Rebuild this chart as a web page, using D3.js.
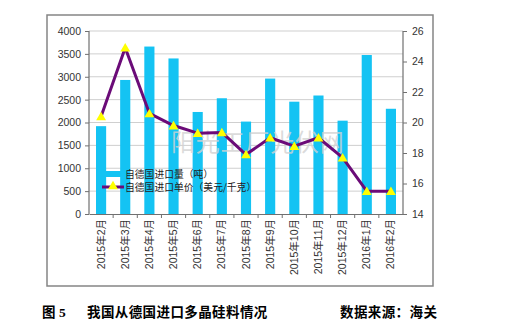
<!DOCTYPE html>
<html><head><meta charset="utf-8">
<script src="https://cdn.jsdelivr.net/npm/d3@7"></script>
<style>body{margin:0;background:#fff}svg{display:block}</style>
</head><body><svg id="c" width="519" height="325"></svg>
<script>
const categories = ["2015年2月","2015年3月","2015年4月","2015年5月","2015年6月","2015年7月","2015年8月","2015年9月","2015年10月","2015年11月","2015年12月","2016年1月","2016年2月"];
const volume = [1920, 2930, 3660, 3400, 2230, 2530, 2020, 2960, 2455, 2590, 2040, 3475, 2300];
const price = [20.4, 24.9, 20.6, 19.8, 19.3, 19.35, 17.9, 19.0, 18.45, 19.0, 17.7, 15.5, 15.5];
const leftTicks = [0,500,1000,1500,2000,2500,3000,3500,4000];
const rightTicks = [14,16,18,20,22,24,26];
const legendLabels = ["自德国进口量（吨）","自德国进口单价（美元/千克）"];

const svg = d3.select("#c");
const L = 89, R = 403, T = 31, B = 214;
const font = "'Liberation Sans', Arial, 'Noto Sans CJK SC', sans-serif";

// outer frame
svg.append("rect").attr("x",47).attr("y",15).attr("width",386).attr("height",271)
  .attr("fill","#fff").attr("stroke","#858585").attr("stroke-width",1.5);

const x = d3.scaleBand().domain(categories).range([L,R]).paddingInner(0.58).paddingOuter(0.29);
const xb = d3.scaleBand().domain(categories).range([L,R]);
const yL = d3.scaleLinear().domain([0,4000]).range([B,T]);
const yR = d3.scaleLinear().domain([14,26]).range([B,T]);

// gridlines
svg.append("g").selectAll("line").data(leftTicks.slice(1)).join("line")
  .attr("x1",L).attr("x2",R).attr("y1",d=>yL(d)).attr("y2",d=>yL(d))
  .attr("stroke","#cfcfcf").attr("stroke-width",1);

// bars
svg.append("g").selectAll("rect").data(volume).join("rect")
  .attr("x",(d,i)=>x(categories[i])).attr("width",x.bandwidth())
  .attr("y",d=>yL(d)).attr("height",d=>B-yL(d)).attr("fill","#14c3f3");

// watermark
svg.append("text").attr("x",171).attr("y",151).text("阳光工厂光伏网")
  .attr("font-family","'Noto Sans CJK SC', sans-serif").attr("font-size",24)
  .attr("fill","#d2d2d2").attr("fill-opacity",0.8).attr("letter-spacing",0.8);

// axes
const axL = d3.axisLeft(yL).tickValues(leftTicks).tickSize(4).tickPadding(4).tickFormat(d3.format("d"));
const gL = svg.append("g").attr("transform",`translate(${L},0)`).call(axL);
const axR = d3.axisRight(yR).tickValues(rightTicks).tickSize(4).tickPadding(5).tickFormat(d3.format("d"));
const gR = svg.append("g").attr("transform",`translate(${R},0)`).call(axR);
const axB = d3.axisBottom(xb).tickSize(0).tickFormat("");
const gB = svg.append("g").attr("transform",`translate(0,${B})`).call(axB);
[gL,gR,gB].forEach(g=>{
  g.select(".domain").attr("stroke","#707070").attr("stroke-width",1.2);
  g.selectAll(".tick line").attr("stroke","#707070");
  g.selectAll("text").attr("font-family",font).attr("font-size",10.5).attr("fill","#333");
});
gL.select(".domain").attr("d",`M0,${T}V${B}`);
gR.select(".domain").attr("d",`M0,${T}V${B}`);
// bottom tick marks at band boundaries
svg.append("g").selectAll("line").data(categories.slice(1)).join("line")
  .attr("x1",d=>xb(d)).attr("x2",d=>xb(d)).attr("y1",B).attr("y2",B+4)
  .attr("stroke","#707070");

// x labels rotated
svg.append("g").selectAll("text").data(categories).join("text")
  .attr("transform",d=>`translate(${xb(d)+xb.bandwidth()/2+3.5},219) rotate(-90)`)
  .attr("text-anchor","end").attr("font-family",font).attr("font-size",10.5)
  .attr("fill","#333").text(d=>d);

// price line
const line = d3.line().x((d,i)=>xb(categories[i])+xb.bandwidth()/2).y(d=>yR(d));
svg.append("path").datum(price).attr("d",line).attr("fill","none")
  .attr("stroke","#6b0b78").attr("stroke-width",3).attr("stroke-linejoin","round");
const tri = d3.symbol().type(d3.symbolTriangle).size(42);
svg.append("g").selectAll("path").data(price).join("path")
  .attr("transform",(d,i)=>`translate(${xb(categories[i])+xb.bandwidth()/2},${yR(d)+1})`)
  .attr("d",tri).attr("fill","#ffff00");

// legend
const lg = svg.append("g");
lg.append("rect").attr("x",103).attr("y",171).attr("width",20).attr("height",6).attr("fill","#14c3f3");
lg.append("line").attr("x1",102).attr("x2",124).attr("y1",187).attr("y2",187).attr("stroke","#6b0b78").attr("stroke-width",3);
lg.append("path").attr("transform","translate(113,186.5)").attr("d",tri).attr("fill","#ffff00");
lg.selectAll("text").data(legendLabels).join("text")
  .attr("x",125).attr("y",(d,i)=>177.5+i*13.5).text(d=>d)
  .attr("font-family","'Noto Sans CJK SC', sans-serif").attr("font-size",9.8).attr("fill","#222");

// caption
const cap = svg.append("g").attr("font-weight","bold").attr("fill","#000");
cap.append("text").attr("x",42).attr("y",317).text("图")
  .attr("font-family","'Noto Sans CJK SC', sans-serif").attr("font-size",13.5);
cap.append("text").attr("x",59).attr("y",317).text("5")
  .attr("font-family","'Liberation Serif', serif").attr("font-size",13.5);
cap.append("text").attr("x",87).attr("y",317).text("我国从德国进口多晶硅料情况")
  .attr("font-family","'Noto Sans CJK SC', sans-serif").attr("font-size",13.5).attr("letter-spacing",0.4);
cap.append("text").attr("x",340).attr("y",317).text("数据来源：海关")
  .attr("font-family","'Noto Sans CJK SC', sans-serif").attr("font-size",13.5).attr("letter-spacing",0.4);
</script></body></html>
